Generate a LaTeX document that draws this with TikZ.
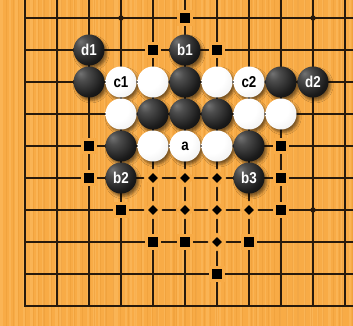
\documentclass[tikz,border=0pt]{standalone}
\usepackage{fontspec}
\newfontfamily\stonefont[FakeStretch=0.85]{Liberation Sans}
\usetikzlibrary{shapes.geometric,shadows.blur}
\definecolor{wood}{RGB}{248,171,70}
\definecolor{woodlight}{RGB}{252,186,96}
\definecolor{wooddark}{RGB}{236,156,56}
\definecolor{gridline}{RGB}{40,26,12}
\pgfdeclareradialshading{blackball}{\pgfpoint{-14bp}{14bp}}{color(0bp)=(black!55); color(10bp)=(black!70); color(30bp)=(black!90); color(55bp)=(black); color(70bp)=(black!85)}
\pgfdeclareradialshading{whiteball}{\pgfpoint{-14bp}{14bp}}{color(0bp)=(white); color(22bp)=(white); color(42bp)=(black!8); color(56bp)=(black!22); color(70bp)=(black!40)}
\begin{document}
\begin{tikzpicture}[x=1cm,y=1cm,
  stone/.style={circle,minimum size=9.7mm,inner sep=0pt,font=\stonefont\bfseries\fontsize{14}{14}\selectfont,
    blur shadow={shadow xshift=2pt,shadow yshift=-2.6pt,shadow opacity=50,shadow blur radius=2.2pt}},
  blackstone/.style={stone,shade,shading=blackball,text=white},
  whitestone/.style={stone,shade,shading=whiteball,text=black},
  sqmark/.style={rectangle,fill=black,draw=wood,line width=2.6pt,minimum size=4.2mm,inner sep=0pt},
  dmmark/.style={diamond,fill=black,draw=wood,line width=2.6pt,minimum size=4.9mm,inner sep=0pt},
  hoshi/.style={circle,fill=gridline,minimum size=1.7mm,inner sep=0pt}]
% board
\fill[wood] (-0.78125,0.5625) rectangle (10.25,-9.625);
\useasboundingbox (-0.78125,0.5625) rectangle (10.25,-9.625);
\pgfmathsetseed{3}
\foreach \k in {0,...,54} {
  \pgfmathsetmacro\xs{-0.78+\k*0.2+0.15*rnd}
  \fill[woodlight,opacity=0.6] (\xs,0.5625) rectangle ++(0.04+0.05*rnd,-10.1875);
  \pgfmathsetmacro\xd{-0.7+\k*0.2+0.15*rnd}
  \fill[wooddark,opacity=0.5] (\xd,0.5625) rectangle ++(0.02+0.03*rnd,-10.1875);
}
\foreach \i in {0,...,10} \draw[gridline,line width=0.95pt] (\i,0.5625) -- (\i,-9);
\foreach \j in {0,...,8} \draw[gridline,line width=0.95pt] (0,-\j) -- (10.25,-\j);
\draw[gridline,line width=1.3pt] (0,0.5625) -- (0,-9) -- (10.25,-9);
% star points
\node[hoshi] (h30) at (3,0) {};
\node[hoshi] (h90) at (9,0) {};
\node[hoshi] (h96) at (9,-6) {};
% squares
\node[sqmark] (s50) at (5,0) {};
\node[sqmark] (s41) at (4,-1) {};
\node[sqmark] (s61) at (6,-1) {};
\node[sqmark] (s24) at (2,-4) {};
\node[sqmark] (s84) at (8,-4) {};
\node[sqmark] (s25) at (2,-5) {};
\node[sqmark] (s85) at (8,-5) {};
\node[sqmark] (s36) at (3,-6) {};
\node[sqmark] (s86) at (8,-6) {};
\node[sqmark] (s47) at (4,-7) {};
\node[sqmark] (s57) at (5,-7) {};
\node[sqmark] (s77) at (7,-7) {};
\node[sqmark] (s68) at (6,-8) {};
% diamonds
\node[dmmark] (m45) at (4,-5) {};
\node[dmmark] (m55) at (5,-5) {};
\node[dmmark] (m65) at (6,-5) {};
\node[dmmark] (m46) at (4,-6) {};
\node[dmmark] (m56) at (5,-6) {};
\node[dmmark] (m66) at (6,-6) {};
\node[dmmark] (m76) at (7,-6) {};
\node[dmmark] (m67) at (6,-7) {};
% stones
\node[blackstone] (d1) at (2,-1) {d1};
\node[blackstone] (b1) at (5,-1) {b1};
\node[blackstone] (k22) at (2,-2) {};
\node[whitestone] (c1) at (3,-2) {c1};
\node[whitestone] (w42) at (4,-2) {};
\node[blackstone] (k52) at (5,-2) {};
\node[whitestone] (w62) at (6,-2) {};
\node[whitestone] (c2) at (7,-2) {c2};
\node[blackstone] (k82) at (8,-2) {};
\node[blackstone] (d2) at (9,-2) {d2};
\node[whitestone] (w33) at (3,-3) {};
\node[blackstone] (k43) at (4,-3) {};
\node[blackstone] (k53) at (5,-3) {};
\node[blackstone] (k63) at (6,-3) {};
\node[whitestone] (w73) at (7,-3) {};
\node[whitestone] (w83) at (8,-3) {};
\node[blackstone] (k34) at (3,-4) {};
\node[whitestone] (w44) at (4,-4) {};
\node[whitestone] (a) at (5,-4) {a};
\node[whitestone] (w64) at (6,-4) {};
\node[blackstone] (k74) at (7,-4) {};
\node[blackstone] (b2) at (3,-5) {b2};
\node[blackstone] (b3) at (7,-5) {b3};
\end{tikzpicture}
\end{document}
